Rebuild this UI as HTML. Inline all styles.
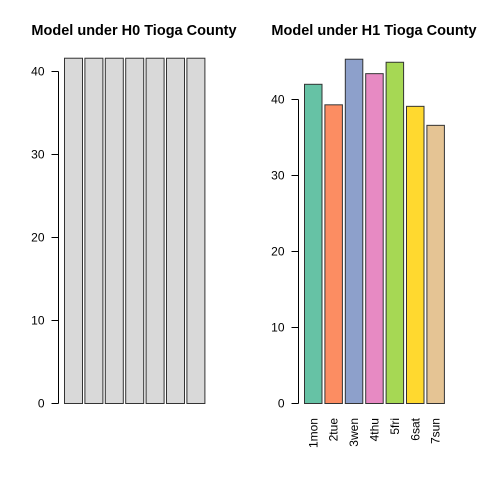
<!DOCTYPE html>
<html><head><meta charset="utf-8"><style>
body{margin:0;background:#fff}
svg{display:block;font-family:"Liberation Sans",Arial,sans-serif}
</style></head><body>
<svg id="c" width="480" height="480"></svg>
<script>
const categories = ["1mon","2tue","3wen","4thu","5fri","6sat","7sun"];
const h0Values = [41.6,41.6,41.6,41.6,41.6,41.6,41.6];
const h1Values = [42.0,39.3,45.3,43.4,44.9,39.1,36.6];
const h0Ticks = [0,10,20,30,40];
const h1Ticks = [0,10,20,30,40];
const h1Colors = ["#66C2A5","#FC8D62","#8DA0CB","#E78AC3","#A6D854","#FFD92F","#E5C494"];

const NS="http://www.w3.org/2000/svg";
const svg=document.getElementById('c');
function mk(tag,attrs,parent){const e=document.createElementNS(NS,tag);for(const k in attrs)e.setAttribute(k,attrs[k]);(parent||svg).appendChild(e);return e;}

function panel(cfg){
  const g=mk('g',{});
  
  
  const y=v=>cfg.y0-v*cfg.k;
  const t=mk('text',{x:cfg.titleX,y:35,'font-size':14.5,'font-weight':'bold','text-anchor':'middle'},g);
  t.textContent=cfg.title;
  
  
  const ax=mk('g',{},g);
  
  
  const ticks=cfg.ticks;
  mk('line',{x1:cfg.axisX,x2:cfg.axisX,y1:y(ticks[0]),y2:y(ticks[ticks.length-1]),stroke:'#000'},ax);
  ticks.forEach(v=>{
    mk('line',{x1:cfg.axisX-7,x2:cfg.axisX,y1:y(v),y2:y(v),stroke:'#000'},ax);
    const l=mk('text',{x:cfg.axisX-14,y:y(v)+4,'font-size':12,'text-anchor':'end'},ax);
    l.textContent=v;
    
    
  });
  cfg.values.forEach((v,i)=>{
    const x=cfg.barX0+i*cfg.step;
    const r=mk('rect',{x:x,y:y(v),width:cfg.bw,height:v*cfg.k,fill:cfg.colors?cfg.colors[i]:'#D9D9D9',stroke:'#333','stroke-width':1},g);
    
    
    if(cfg.labels){
      const cx=x+cfg.bw/2+4;
      const l=mk('text',{x:cx,y:418,'font-size':12,'text-anchor':'end',transform:`rotate(-90 ${cx} 418)`},g);
      l.textContent=categories[i];
      
      
    }
  });
}
panel({name:'h0-panel',title:'Model under H0 Tioga County',titleX:134,values:h0Values,ticks:h0Ticks,y0:403.5,k:8.3,axisX:58.5,barX0:64.5,step:20.4,bw:18,labels:false});
panel({name:'h1-panel',title:'Model under H1 Tioga County',titleX:374,values:h1Values,ticks:h1Ticks,y0:403.5,k:7.6,axisX:298.5,barX0:304.5,step:20.4,bw:17.5,labels:true,colors:h1Colors});
</script>
</body></html>
